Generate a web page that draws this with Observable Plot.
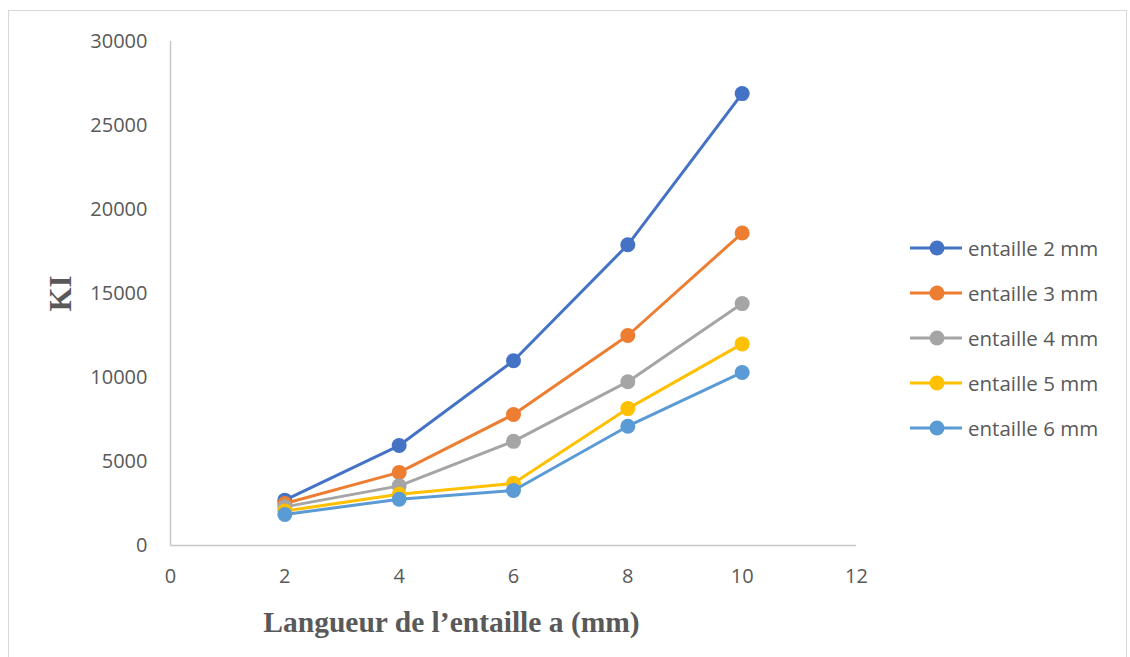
<!DOCTYPE html>
<html>
<head>
<meta charset="utf-8">
<script src="https://cdn.jsdelivr.net/npm/d3@7"></script>
<script src="https://cdn.jsdelivr.net/npm/@observablehq/plot@0.6"></script>
<style>
  html, body { margin: 0; padding: 0; background: #fff; }
  #wrap { position: relative; width: 1130px; height: 657px; overflow: hidden; }
  #border { position: absolute; left: 8px; top: 10px; width: 1119px; height: 700px; border: 1px solid #d9d9d9; box-sizing: border-box; }
  #chart { position: absolute; left: 0; top: 0; }
  #legend { position: absolute; left: 908px; top: 225px; font-family: "Open Sans", sans-serif; font-size: 20.5px; color: #595959; }
  .item { display: flex; align-items: center; height: 45px; }
  .item svg { margin-right: 4px; }
</style>
</head>
<body>
<div id="wrap">
  <div id="border"></div>
  <div id="chart"></div>
  <div id="legend"></div>
</div>
<script>
// Data
const xValues = [2, 4, 6, 8, 10];
const seriesNames = ["entaille 2 mm", "entaille 3 mm", "entaille 4 mm", "entaille 5 mm", "entaille 6 mm"];
const seriesColors = ["#4472C4", "#ED7D31", "#A5A5A5", "#FFC000", "#5B9BD5"];
const e2 = [2700, 5950, 11000, 17900, 26900];
const e3 = [2500, 4350, 7800, 12500, 18600];
const e4 = [2300, 3550, 6200, 9750, 14400];
const e5 = [2050, 3050, 3700, 8150, 12000];
const e6 = [1850, 2750, 3270, 7100, 10300];
const seriesValues = [e2, e3, e4, e5, e6];
const xTicks = [0, 2, 4, 6, 8, 10, 12];
const yTicks = [0, 5000, 10000, 15000, 20000, 25000, 30000];
const xTitle = "Langueur de l\u2019entaille a (mm)";
const yTitle = "KI";

const seriesMarks = [];
seriesNames.forEach((name, i) => {
  const rows = xValues.map((x, j) => ({x, y: seriesValues[i][j], s: name}));
  seriesMarks.push(Plot.line(rows, {x: "x", y: "y", stroke: seriesColors[i], strokeWidth: 3}));
  seriesMarks.push(Plot.dot(rows, {x: "x", y: "y", fill: seriesColors[i], r: 7.5, stroke: "none"}));
});

const chart = Plot.plot({
  width: 1130,
  height: 657,
  marginLeft: 170,
  marginRight: 274,
  marginTop: 41,
  marginBottom: 112,
  style: {background: "transparent", fontFamily: "Open Sans, sans-serif"},
  x: {domain: [0, 12], ticks: xTicks, label: null},
  y: {domain: [0, 30000], ticks: yTicks, label: null},
  marks: [
    Plot.axisX({ticks: xTicks, tickSize: 0, tickPadding: 23, fontSize: 20, color: "#595959", label: null, tickFormat: d => String(d)}),
    Plot.axisY({ticks: yTicks, tickSize: 0, tickPadding: 23, fontSize: 20, color: "#595959", label: null, tickFormat: d => String(d)}),
    Plot.ruleX([0], {stroke: "#c8c8c8", strokeWidth: 1.5}),
    Plot.ruleY([0], {stroke: "#c8c8c8", strokeWidth: 1.5}),
    ...seriesMarks,
    Plot.text([yTitle], {frameAnchor: "left", textAnchor: "middle", lineAnchor: "middle", dx: -109, rotate: -90, fontSize: 31, fontWeight: "bold", fontFamily: "Liberation Serif, serif", fill: "#595959"}),
    Plot.text([xTitle], {frameAnchor: "bottom", textAnchor: "middle", lineAnchor: "middle", dx: -62, dy: 77, fontSize: 29.5, fontWeight: "bold", fontFamily: "Liberation Serif, serif", fill: "#595959"})
  ]
});
document.getElementById("chart").appendChild(chart);

const legend = document.getElementById("legend");
seriesNames.forEach((name, i) => {
  const item = document.createElement("div");
  item.className = "item";
  item.innerHTML = `<svg width="56" height="20"><line x1="2" y1="10" x2="54" y2="10" stroke="${seriesColors[i]}" stroke-width="3"/><circle cx="29" cy="10" r="7.5" fill="${seriesColors[i]}"/></svg><span>${name}</span>`;
  legend.appendChild(item);
});
</script>
</body>
</html>
